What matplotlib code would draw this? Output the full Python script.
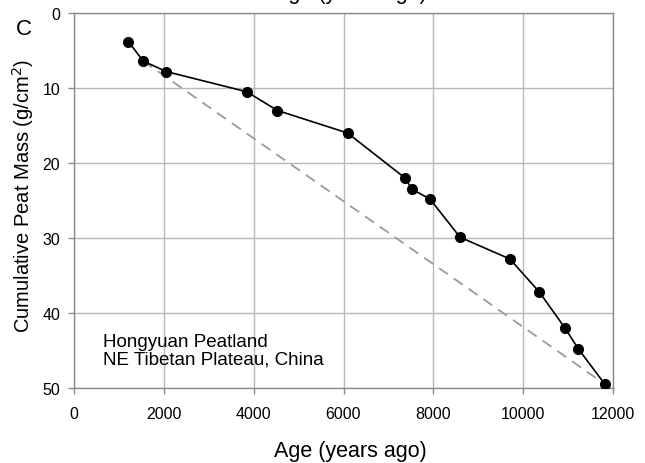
import matplotlib
matplotlib.use("Agg")
import matplotlib.pyplot as plt

plt.rcParams['font.family'] = ['Liberation Sans', 'DejaVu Sans']

age = [1210, 1540, 2050, 3845, 4530, 6090, 7370, 7525, 7925, 8595, 9705, 10360, 10930, 11230, 11820]
mass = [3.8, 6.4, 7.8, 10.5, 13.0, 16.0, 22.0, 23.5, 24.8, 29.9, 32.8, 37.2, 42.0, 44.8, 49.5]
xticks = [0, 2000, 4000, 6000, 8000, 10000, 12000]
yticks = [0, 10, 20, 30, 40, 50]

W, H = 645, 464
fig = plt.figure(figsize=(6.45, 4.64), dpi=100)
ax = fig.add_axes([74/W, 1-389/H, (613-74)/W, (389-14)/H])

ax.plot([age[1], age[-1]], [mass[1], mass[-1]], color='#9a9a9a', lw=1.3,
        dashes=(6, 4), zorder=2)
ax.plot(age, mass, color='black', lw=1.2, marker='o', markersize=7,
        markerfacecolor='black', markeredgecolor='black', zorder=3)

ax.set_xlim(0, 12000)
ax.set_ylim(50, 0)
ax.set_xticks(xticks)
ax.set_yticks(yticks)
ax.grid(True, color='#b8b8b8', lw=1.0)
ax.set_axisbelow(True)
for s in ax.spines.values():
    s.set_color('#8a8a8a')
    s.set_linewidth(1.0)
ax.tick_params(direction='out', length=4, width=1, color='#8a8a8a',
               labelsize=11.5)
ax.tick_params(axis='x', pad=9)
ax.tick_params(axis='y', pad=6)
ax.set_xticklabels([str(v) for v in xticks])

fig.text(23/W, 1-196/H, 'Cumulative Peat Mass (g/cm$^2$)', fontsize=14.5,
         rotation=90, ha='center', va='center')
fig.text(350/W, 1-457/H, 'Age (years ago)', fontsize=15.5, ha='center', va='baseline')
fig.text(350/W, 1+0.5/H, 'Age (years ago)', fontsize=15.5, ha='center', va='baseline')
fig.text(23.5/W, 1-29.5/H, 'C', fontsize=16, ha='center', va='center')

ax.text(103/W, 1-347/H, 'Hongyuan Peatland', transform=fig.transFigure,
        fontsize=13.5, ha='left', va='baseline')
ax.text(103/W, 1-365/H, 'NE Tibetan Plateau, China', transform=fig.transFigure,
        fontsize=13.5, ha='left', va='baseline')

fig.savefig('out.png', dpi=100)
